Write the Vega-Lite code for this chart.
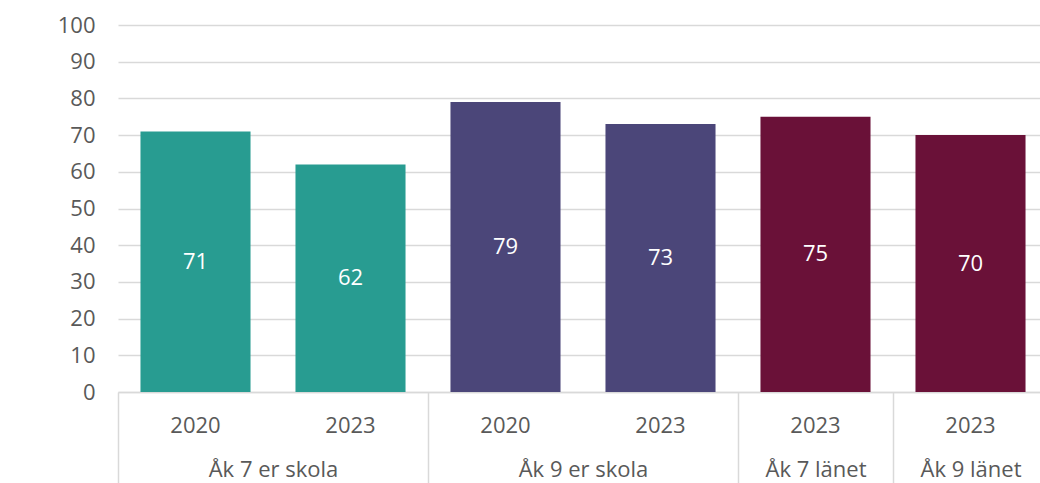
{
  "$schema": "https://vega.github.io/schema/vega-lite/v6.json",
  "width": 922,
  "height": 367,
  "autosize": {"type": "none"},
  "padding": {"left": 118, "top": 25, "right": 0, "bottom": 91},
  "background": "white",
  "config": {"font": "Open Sans", "view": {"stroke": null}},
  "data": {"values": [
    {"id": "Åk 7 er skola 2020", "group": "Åk 7 er skola", "year": "2020", "value": 71},
    {"id": "Åk 7 er skola 2023", "group": "Åk 7 er skola", "year": "2023", "value": 62},
    {"id": "Åk 9 er skola 2020", "group": "Åk 9 er skola", "year": "2020", "value": 79},
    {"id": "Åk 9 er skola 2023", "group": "Åk 9 er skola", "year": "2023", "value": 73},
    {"id": "Åk 7 länet 2023", "group": "Åk 7 länet", "year": "2023", "value": 75},
    {"id": "Åk 9 länet 2023", "group": "Åk 9 länet", "year": "2023", "value": 70}
  ]},
  "layer": [
    {
      "encoding": {
        "x": {
          "field": "id", "type": "nominal", "sort": null,
          "scale": {"range": [0, 930], "paddingInner": 0.29, "paddingOuter": 0.145},
          "axis": {
            "title": null, "labelAngle": 0, "ticks": false, "domain": true,
            "domainColor": "#d9d9d9", "domainWidth": 1.5,
            "labelExpr": "slice(datum.label, -4)",
            "labelFontSize": 22, "labelColor": "#595959", "labelPadding": 23,
            "grid": false
          }
        }
      },
      "layer": [
        {
          "mark": {"type": "bar"},
          "encoding": {
            "y": {
              "field": "value", "type": "quantitative",
              "scale": {"domain": [0, 100], "nice": false},
              "axis": {
                "title": null, "values": [0, 10, 20, 30, 40, 50, 60, 70, 80, 90, 100],
                "labelOverlap": false,
                "domain": false, "ticks": false, "grid": true,
                "gridColor": "#d9d9d9", "gridWidth": 1.5,
                "labelFontSize": 22, "labelColor": "#595959", "labelPadding": 23
              }
            },
            "color": {
              "field": "group", "type": "nominal",
              "scale": {
                "domain": ["Åk 7 er skola", "Åk 9 er skola", "Åk 7 länet", "Åk 9 länet"],
                "range": ["#289c91", "#4b4679", "#6a1138", "#6a1138"]
              },
              "legend": null
            }
          }
        },
        {
          "transform": [{"calculate": "datum.value / 2", "as": "mid"}],
          "mark": {"type": "text", "color": "white", "fontSize": 22, "baseline": "middle"},
          "encoding": {
            "y": {
              "field": "mid", "type": "quantitative",
              "scale": {"domain": [0, 100], "nice": false},
              "axis": {
                "title": null, "values": [0, 10, 20, 30, 40, 50, 60, 70, 80, 90, 100],
                "labelOverlap": false,
                "domain": false, "ticks": false, "grid": true,
                "gridColor": "#d9d9d9", "gridWidth": 1.5,
                "labelFontSize": 22, "labelColor": "#595959", "labelPadding": 23
              }
            },
            "text": {"field": "value", "type": "quantitative"}
          }
        }
      ]
    },
    {
      "mark": {"type": "point", "opacity": 0},
      "encoding": {
        "x": {
          "datum": 0, "type": "quantitative",
          "scale": {"domain": [0, 6], "range": [0, 930], "nice": false, "zero": false},
          "axis": {
            "orient": "bottom", "title": null, "values": [0, 2, 4, 5, 6],
            "labels": false, "domain": false, "grid": false,
            "ticks": true, "tickSize": 95, "tickColor": "#d9d9d9", "tickWidth": 1.5
          }
        }
      }
    },
    {
      "mark": {"type": "point", "opacity": 0},
      "encoding": {
        "x": {
          "datum": 0, "type": "quantitative",
          "scale": {"domain": [0, 6], "range": [0, 930], "nice": false, "zero": false},
          "axis": {
            "orient": "bottom", "title": null, "values": [1, 3, 4.5, 5.5],
            "labels": true, "domain": false, "grid": false, "ticks": false,
            "labelOverlap": false,
            "labelExpr": "datum.value == 1 ? 'Åk 7 er skola' : datum.value == 3 ? 'Åk 9 er skola' : datum.value == 4.5 ? 'Åk 7 länet' : 'Åk 9 länet'",
            "labelFontSize": 22, "labelColor": "#595959", "labelPadding": 67
          }
        }
      }
    }
  ],
  "resolve": {"scale": {"x": "independent"}}
}
